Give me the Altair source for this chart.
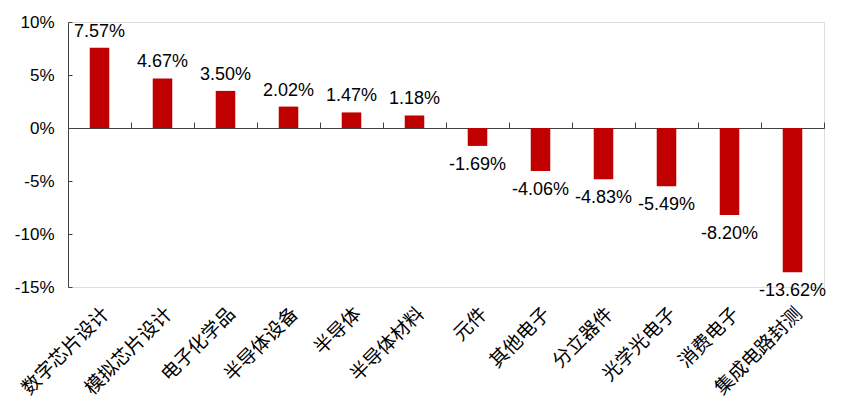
import altair as alt
import pandas as pd

categories = ["数字芯片设计", "模拟芯片设计", "电子化学品", "半导体设备", "半导体", "半导体材料",
              "元件", "其他电子", "分立器件", "光学光电子", "消费电子", "集成电路封测"]
values = [7.57, 4.67, 3.50, 2.02, 1.47, 1.18, -1.69, -4.06, -4.83, -5.49, -8.20, -13.62]
y_ticks = [-15, -10, -5, 0, 5, 10]

df = pd.DataFrame({"cat": categories, "val": values})
df["label"] = [f"{v:.2f}%" for v in values]

W, H = 756, 265
zero_px = H * 10 / 25

xscale = alt.Scale(domain=categories, paddingInner=0, paddingOuter=0)
yscale = alt.Scale(domain=[-15, 10], nice=False, zero=False)

bars = alt.Chart(df).mark_bar(color="#C00000", width=alt.RelativeBandSize(0.31)).encode(
    x=alt.X("cat:N", sort=categories, scale=xscale, title=None,
            axis=alt.Axis(orient="bottom", domain=False, ticks=False, labelAngle=-45,
                          labelAlign="right", labelBaseline="top", labelPadding=17,
                          labelFont="Noto Sans CJK SC", labelFontSize=19, labelColor="black",
                          labelLimit=0)),
    y=alt.Y("val:Q", title=None, scale=yscale,
            axis=alt.Axis(orient="left", values=y_ticks, labelExpr="datum.value + '%'",
                          grid=False, domainColor="#404040", ticks=False,
                          labelFont="Liberation Sans", labelFontSize=17, labelColor="black",
                          labelPadding=14)),
)

pos = alt.Chart(df).transform_filter("datum.val >= 0").mark_text(
    baseline="bottom", dy=-7, font="Liberation Sans", fontSize=18, color="black"
).encode(
    x=alt.X("cat:N", sort=categories, scale=xscale, title=None,
            axis=alt.Axis(orient="top", offset=-zero_px, labels=False, domainColor="#404040",
                          tickColor="#404040", tickSize=6, tickBand="extent", grid=False)),
    y=alt.Y("val:Q", title=None, scale=yscale,
            axis=alt.Axis(orient="right", offset=-W, values=y_ticks, labels=False,
                          domain=False, tickColor="#404040", tickSize=4, grid=False)),
    text="label:N",
)

neg = alt.Chart(df).transform_filter("datum.val < 0").mark_text(
    baseline="top", dy=10, font="Liberation Sans", fontSize=18, color="black"
).encode(
    x=alt.X("cat:N", sort=categories, scale=xscale, title=None, axis=None),
    y=alt.Y("val:Q", title=None, scale=yscale, axis=None),
    text="label:N",
)

chart = alt.layer(bars, pos, neg).resolve_axis(x="independent", y="independent").properties(
    width=W, height=H,
    autosize=alt.AutoSizeParams(type="none"),
    padding={"left": 60, "top": 14, "right": 10, "bottom": 113},
).configure_view(stroke=None).configure(background="white")

chart.save("out.html", embed_options={"renderer": "svg", "actions": False})
